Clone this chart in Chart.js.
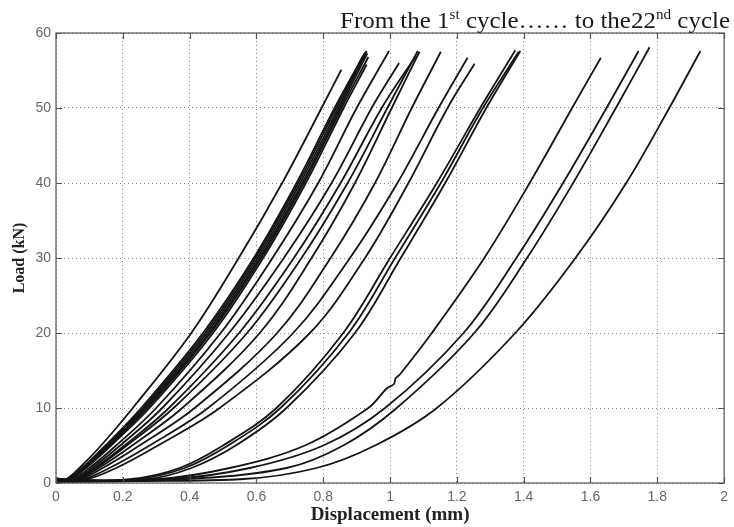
<!DOCTYPE html>
<html>
<head>
<meta charset="utf-8">
<script src="https://cdn.jsdelivr.net/npm/chart.js@4/dist/chart.umd.min.js"></script>
<style>
  html, body { margin: 0; padding: 0; background: #fff; }
  #wrap { width: 734px; height: 527px; position: relative; }
</style>
</head>
<body>
<div id="wrap"><canvas id="c" width="734" height="527"></canvas></div>
<script>
// Load levels (kN) at which the displacement of every loading branch is listed
const loadLevels = [0.5, 2, 5, 10, 20, 30, 40, 50];

// Displacement (mm) of each cycle at the load levels above
const cycle01 = [0.030, 0.070, 0.135, 0.230, 0.405, 0.547, 0.677, 0.795];
const cycle02 = [0.035, 0.078, 0.148, 0.255, 0.440, 0.592, 0.720, 0.834];
const cycle03 = [0.036, 0.080, 0.151, 0.260, 0.446, 0.597, 0.725, 0.839];
const cycle04 = [0.038, 0.082, 0.154, 0.265, 0.452, 0.603, 0.731, 0.845];
const cycle05 = [0.040, 0.084, 0.157, 0.270, 0.458, 0.609, 0.737, 0.850];
const cycle06 = [0.042, 0.087, 0.160, 0.274, 0.463, 0.614, 0.742, 0.855];
const cycle07 = [0.044, 0.090, 0.165, 0.280, 0.470, 0.620, 0.748, 0.861];
const cycle08 = [0.050, 0.100, 0.180, 0.300, 0.493, 0.648, 0.785, 0.900];
const cycle09 = [0.055, 0.108, 0.192, 0.318, 0.518, 0.682, 0.825, 0.945];
const cycle10 = [0.060, 0.116, 0.205, 0.338, 0.548, 0.712, 0.852, 0.975];
const cycle11 = [0.062, 0.120, 0.212, 0.352, 0.572, 0.735, 0.873, 0.992];
const cycle12 = [0.065, 0.128, 0.228, 0.378, 0.610, 0.765, 0.895, 1.005];
const cycle13 = [0.070, 0.140, 0.250, 0.415, 0.662, 0.822, 0.955, 1.065];
const cycle14 = [0.080, 0.160, 0.280, 0.455, 0.710, 0.880, 1.022, 1.145];
const cycle15 = [0.090, 0.180, 0.305, 0.490, 0.760, 0.925, 1.055, 1.172];
const cycle16 = [0.220, 0.370, 0.500, 0.660, 0.860, 1.000, 1.140, 1.270];
const cycle17 = [0.240, 0.385, 0.515, 0.672, 0.876, 1.015, 1.152, 1.278];
const cycle18 = [0.270, 0.405, 0.538, 0.690, 0.895, 1.032, 1.165, 1.288];
const cycle19 = [0.300, 0.520, 0.745, 0.935, 1.125, 1.282, 1.418, 1.545];
const cycle20 = [0.340, 0.580, 0.800, 0.985, 1.220, 1.378, 1.518, 1.648];
const cycle21 = [0.380, 0.690, 0.860, 1.020, 1.252, 1.410, 1.548, 1.676];
const cycle22 = [0.550, 0.780, 0.955, 1.140, 1.375, 1.555, 1.707, 1.836];

// Peak of each loading branch
const peakDisp = [0.854, 0.920, 0.925, 0.930, 0.932, 0.935, 0.930, 0.997, 1.027, 1.075, 1.083, 1.088,
                  1.152, 1.232, 1.253, 1.375, 1.385, 1.390, 1.631, 1.744, 1.777, 1.929];
const peakLoad = [55.1, 57.0, 57.4, 57.6, 57.3, 56.8, 55.8, 57.6, 56.0, 56.8, 57.6, 57.5,
                  57.5, 56.7, 55.9, 57.7, 57.5, 57.6, 56.7, 57.6, 58.1, 57.6];
// Residual load at zero displacement
const baseLoad = [0.30, 0.55, 0.15, 0.60, 0.25, 0.45, 0.05, 0.35, 0.60, 0.20, 0.50, 0.05,
                  0.40, 0.25, 0.55, 0.30, 0.15, 0.45, 0.35, 0.20, 0.10, 0.30];

// Load step recorded during cycle 19
const stepCycle = 19;
const stepDisp = [0.990, 1.012, 1.016, 1.030];
const stepLoad = [12.6, 13.2, 13.9, 14.5];

// Axis ticks
const xTicks = [0, 0.2, 0.4, 0.6, 0.8, 1, 1.2, 1.4, 1.6, 1.8, 2];
const yTicks = [0, 10, 20, 30, 40, 50, 60];

const cycles = [cycle01, cycle02, cycle03, cycle04, cycle05, cycle06, cycle07, cycle08, cycle09, cycle10, cycle11,
                cycle12, cycle13, cycle14, cycle15, cycle16, cycle17, cycle18, cycle19, cycle20, cycle21, cycle22];

const datasets = cycles.map((disp, i) => {
  let pts = [{ x: 0, y: baseLoad[i] }];
  loadLevels.forEach((L, k) => pts.push({ x: disp[k], y: L }));
  if (i + 1 === stepCycle) {
    stepDisp.forEach((d, k) => pts.push({ x: d, y: stepLoad[k] }));
  }
  pts.push({ x: peakDisp[i], y: peakLoad[i] });
  pts.sort((a, b) => a.x - b.x);
  return {
    label: 'Cycle ' + (i + 1),
    data: pts,
    showLine: true,
    borderColor: '#141414',
    borderWidth: 1.8,
    pointRadius: 0,
    tension: 0.35,
    fill: false
  };
});

// Frame, inward ticks and the heading above the plot
const framePlugin = {
  id: 'frame',
  afterDatasetsDraw(chart) {
    const { ctx, chartArea: a, scales } = chart;
    ctx.save();
    ctx.strokeStyle = '#555';
    ctx.lineWidth = 1.2;
    ctx.setLineDash([]);
    ctx.strokeRect(a.left, a.top, a.right - a.left, a.bottom - a.top);
    ctx.beginPath();
    xTicks.forEach(v => {
      const px = Math.round(scales.x.getPixelForValue(v)) + 0.5;
      ctx.moveTo(px, a.bottom); ctx.lineTo(px, a.bottom - 6);
      ctx.moveTo(px, a.top); ctx.lineTo(px, a.top + 6);
    });
    yTicks.forEach(v => {
      const py = Math.round(scales.y.getPixelForValue(v)) + 0.5;
      ctx.moveTo(a.left, py); ctx.lineTo(a.left + 6, py);
      ctx.moveTo(a.right, py); ctx.lineTo(a.right - 6, py);
    });
    ctx.stroke();

    // heading with superscripts, right aligned to the plot edge
    const big = '23px "Liberation Serif"';
    const sup = '14px "Liberation Serif"';
    const parts = [
      ['From the 1', big, 0], ['st', sup, -9], [' cycle\u2026\u2026 to the22', big, 0], ['nd', sup, -9], [' cycle', big, 0]
    ];
    let total = 0;
    parts.forEach(p => { ctx.font = p[1]; total += ctx.measureText(p[0]).width; });
    const targetWidth = 390;
    const sx = targetWidth / total;
    const right = 730;
    const base = 28;
    ctx.translate(right - targetWidth, base);
    ctx.scale(sx, 1);
    let x = 0;
    ctx.fillStyle = '#1a1a1a';
    ctx.textBaseline = 'alphabetic';
    parts.forEach(p => {
      ctx.font = p[1];
      ctx.fillText(p[0], x, p[2]);
      x += ctx.measureText(p[0]).width;
    });
    ctx.restore();
  }
};

const tickFont = { family: '"Liberation Sans", Arial, sans-serif', size: 14 };

new Chart(document.getElementById('c'), {
  type: 'scatter',
  data: { datasets },
  plugins: [framePlugin],
  options: {
    responsive: false,
    animation: false,
    layout: { padding: { left: 0, right: 6, top: 33, bottom: 0 } },
    plugins: { legend: { display: false }, tooltip: { enabled: false } },
    scales: {
      x: {
        type: 'linear', min: 0, max: 2,
        afterBuildTicks: s => { s.ticks = xTicks.map(v => ({ value: v })); },
        afterFit: s => { s.height = 44; },
        ticks: {
          color: '#666', font: tickFont, padding: 6, maxRotation: 0,
          callback: v => String(Number(v.toFixed(1)))
        },
        grid: { color: '#8a8a8a', lineWidth: 1, drawTicks: false },
        border: { display: false, dash: [1, 3] },
        title: {
          display: true, text: 'Displacement (mm)', color: '#222',
          font: { family: '"Liberation Serif", serif', size: 19, weight: 'bold' },
          padding: { top: 0, bottom: 1 }
        }
      },
      y: {
        type: 'linear', min: 0, max: 60,
        afterBuildTicks: s => { s.ticks = yTicks.map(v => ({ value: v })); },
        afterFit: s => { s.width = 56; },
        ticks: { color: '#666', font: tickFont, padding: 5 },
        grid: { color: '#8a8a8a', lineWidth: 1, drawTicks: false },
        border: { display: false, dash: [1, 3] },
        title: {
          display: true, text: 'Load (kN)', color: '#222',
          font: { family: '"Liberation Serif", serif', size: 16, weight: 'bold' },
          padding: { top: 10, bottom: 0 }
        }
      }
    }
  }
});
</script>
</body>
</html>
